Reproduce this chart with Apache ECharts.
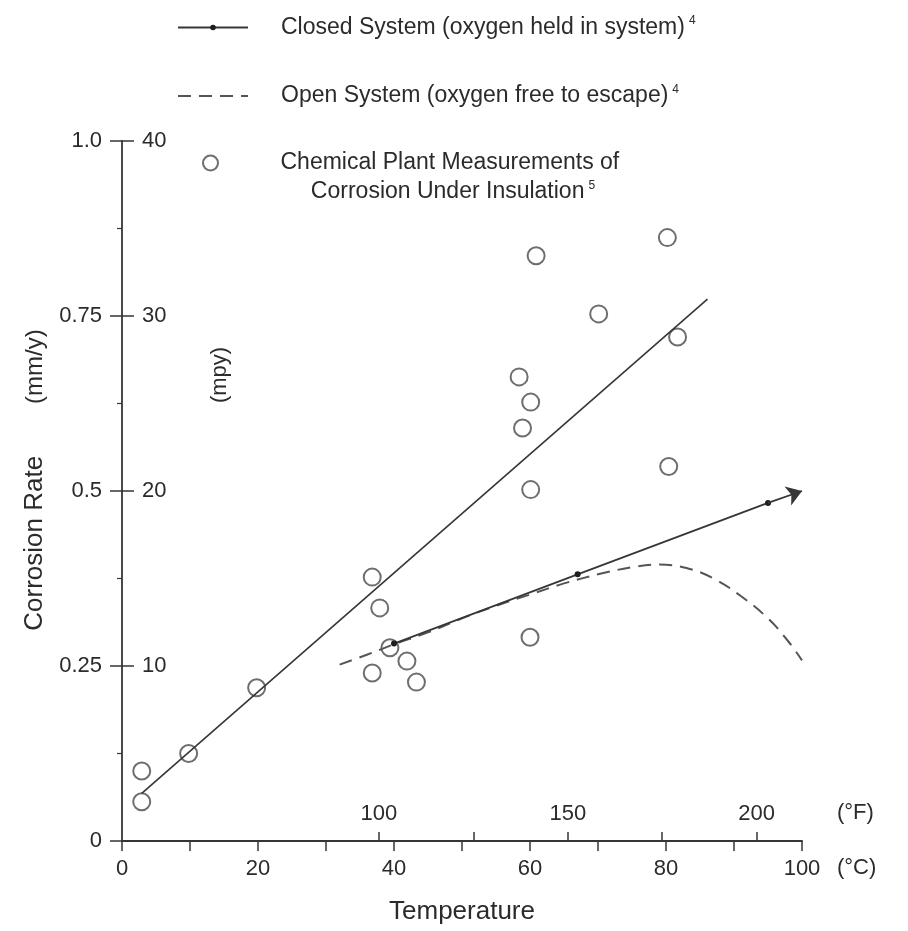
<!DOCTYPE html>
<html>
<head>
<meta charset="utf-8">
<script src="https://cdn.jsdelivr.net/npm/echarts@6/dist/echarts.min.js"></script>
<style>html,body{margin:0;padding:0;background:#fff}#c{width:908px;height:931px}</style>
</head>
<body>
<div id="c"></div>
<script>
// ---- data ----
const plantTemp = [2.9, 2.9, 9.8, 19.8, 36.8, 37.9, 39.4, 41.9, 36.8, 43.3, 60.0, 60.1, 58.9, 60.1, 58.4, 60.9, 70.1, 80.2, 81.7, 80.4];
const plantRate = [0.100, 0.056, 0.125, 0.219, 0.377, 0.333, 0.276, 0.257, 0.240, 0.227, 0.291, 0.502, 0.590, 0.627, 0.663, 0.836, 0.753, 0.862, 0.720, 0.535];

const trendTemp = [2.9, 86.1];
const trendRate = [0.068, 0.774];

const closedTemp = [40, 67, 95];
const closedRate = [0.282, 0.381, 0.483];
const closedTipTemp = 100;
const closedTipRate = 0.500;

const openTemp = [32, 36, 40, 45, 50, 55, 60, 65, 70, 75, 79, 83, 87, 91, 95, 98, 100];
const openRate = [0.252, 0.266, 0.281, 0.298, 0.318, 0.336, 0.352, 0.368, 0.381, 0.391, 0.395, 0.390, 0.375, 0.350, 0.318, 0.285, 0.258];

const mmLabels = ['0', '0.25', '0.5', '0.75', '1.0'];
const mpyLabels = ['', '10', '20', '30', '40'];
const cLabels = ['0', '20', '40', '60', '80', '100'];
const fTickValues = [100, 125, 150, 175, 200];
const fLabelValues = [100, 150, 200];

const nameClosed = 'Closed System (oxygen held in system)';
const nameOpen = 'Open System (oxygen free to escape)';
const namePlant = 'Chemical Plant Measurements of Corrosion Under Insulation';

// ---- chart ----
const FONT = '"Liberation Sans", Arial, Helvetica, sans-serif';
const INK = '#2b2b2b';
const LINE = '#363636';
const zip = (a, b) => a.map((v, i) => [v, b[i]]);

const chart = echarts.init(document.getElementById('c'));
const supRich = { s: { fontSize: 12, color: INK, fontFamily: FONT, padding: [0, 0, 13, 4] } };

chart.setOption({
  animation: false,
  backgroundColor: '#fff',
  textStyle: { fontFamily: FONT, color: INK },
  grid: { left: 122, right: 106, top: 141, bottom: 90, containLabel: false, outerBoundsMode: 'none' },
  legend: [
    {
      data: [nameClosed, nameOpen],
      orient: 'vertical', left: 177, top: 15, padding: 0,
      itemWidth: 70, itemHeight: 7, itemGap: 44,
      selectedMode: false,
      textStyle: { fontSize: 23, color: INK, fontFamily: FONT, lineHeight: 24, padding: [0, 0, 0, 28], rich: supRich },
      formatter: n => n + '{s|4}'
    },
    {
      data: [{ name: namePlant, icon: 'circle', itemStyle: { color: '#fff', borderColor: '#4a4a4a', borderWidth: 2 } }],
      orient: 'vertical', left: 202, top: 151, padding: 0,
      itemWidth: 70, itemHeight: 15,
      selectedMode: false,
      textStyle: { fontSize: 23, color: INK, fontFamily: FONT, lineHeight: 24, padding: [0, 0, 0, 30] },
      formatter: () => 'Chemical Plant Measurements of'
    }
  ],
  xAxis: [
    {
      type: 'value', min: 0, max: 100, interval: 20, position: 'bottom',
      name: 'Temperature', nameLocation: 'middle', nameGap: 58,
      nameTextStyle: { fontSize: 26, color: INK, fontFamily: FONT },
      axisLine: { show: true, onZero: false, lineStyle: { color: LINE, width: 2 } },
      axisTick: { show: true, length: 10, lineStyle: { color: LINE, width: 1.5 } },
      minorTick: { show: true, splitNumber: 2, length: 10, lineStyle: { color: LINE, width: 1.5 } },
      axisLabel: { fontSize: 22, color: INK, margin: 17, formatter: (v, i) => cLabels[i] },
      splitLine: { show: false }, minorSplitLine: { show: false }
    },
    {
      type: 'value', min: 32, max: 212, position: 'bottom',
      axisLine: { show: false, onZero: false },
      axisTick: { show: true, inside: true, length: 9, customValues: fTickValues, lineStyle: { color: LINE, width: 1.5 } },
      axisLabel: { show: true, inside: true, margin: 16, fontSize: 22, color: INK, customValues: fLabelValues },
      splitLine: { show: false }
    }
  ],
  yAxis: [
    {
      type: 'value', min: 0, max: 1, interval: 0.25, position: 'left',
      name: '{a|Corrosion Rate}{b|(mm/y)}', nameLocation: 'middle', nameGap: 66,
      nameTextStyle: {
        fontSize: 26, color: INK, fontFamily: FONT,
        rich: {
          a: { fontSize: 26, color: INK, fontFamily: FONT, padding: [0, 0, 0, 22] },
          b: { fontSize: 24, color: INK, fontFamily: FONT, padding: [0, 0, 0, 52] }
        }
      },
      axisLine: { show: true, onZero: false, lineStyle: { color: LINE, width: 1.8 } },
      axisTick: { show: true, length: 12, lineStyle: { color: LINE, width: 1.5 } },
      minorTick: { show: true, splitNumber: 2, length: 5, lineStyle: { color: LINE, width: 1.2 } },
      axisLabel: { fontSize: 22, color: INK, margin: 20, formatter: (v, i) => mmLabels[i] },
      splitLine: { show: false }, minorSplitLine: { show: false }
    },
    {
      type: 'value', min: 0, max: 40, interval: 10, position: 'left',
      axisLine: { show: false, onZero: false },
      axisTick: { show: true, inside: true, length: 12, lineStyle: { color: LINE, width: 1.5 } },
      axisLabel: { inside: true, fontSize: 22, color: INK, margin: 20, formatter: (v, i) => mpyLabels[i] },
      splitLine: { show: false }
    }
  ],
  series: [
    {
      name: namePlant, type: 'scatter', z: 2,
      symbol: 'emptyCircle', symbolSize: 17,
      itemStyle: { color: '#4a4a4a', borderWidth: 2 },
      data: zip(plantTemp, plantRate)
    },
    {
      name: 'trend', type: 'line', z: 3, symbol: 'none',
      lineStyle: { color: LINE, width: 1.6 },
      data: zip(trendTemp, trendRate)
    },
    {
      name: nameOpen, type: 'line', z: 3, symbol: 'none', smooth: 0.4,
      itemStyle: { color: 'rgba(0,0,0,0)' },
      lineStyle: { color: '#555', width: 2, type: [13, 8] },
      data: zip(openTemp, openRate)
    },
    {
      name: nameClosed, type: 'line', z: 4,
      symbol: 'circle', symbolSize: 6, showSymbol: true,
      itemStyle: { color: '#1e1e1e' },
      lineStyle: { color: LINE, width: 1.8 },
      data: zip(closedTemp, closedRate),
      markLine: {
        silent: true, symbol: ['none', 'arrow'], symbolSize: 15,
        label: { show: false },
        itemStyle: { color: LINE },
        lineStyle: { color: LINE, width: 1.8, type: 'solid' },
        data: [[{ coord: [closedTemp[closedTemp.length - 1], closedRate[closedRate.length - 1]] }, { coord: [closedTipTemp, closedTipRate] }]]
      }
    }
  ],
  graphic: [
    { type: 'text', x: 453, y: 192, style: { text: 'Corrosion Under Insulation{s|5}', rich: supRich, fontSize: 23, fontFamily: FONT, fill: INK, align: 'center', verticalAlign: 'middle' } },
    { type: 'text', x: 220, y: 375, rotation: Math.PI / 2, style: { text: '(mpy)', fontSize: 22, fontFamily: FONT, fill: INK, align: 'center', verticalAlign: 'middle' } },
    { type: 'text', x: 837, y: 813, style: { text: '(°F)', fontSize: 22, fontFamily: FONT, fill: INK, align: 'left', verticalAlign: 'middle' } },
    { type: 'text', x: 837, y: 868, style: { text: '(°C)', fontSize: 22, fontFamily: FONT, fill: INK, align: 'left', verticalAlign: 'middle' } }
  ]
});
</script>
</body>
</html>
